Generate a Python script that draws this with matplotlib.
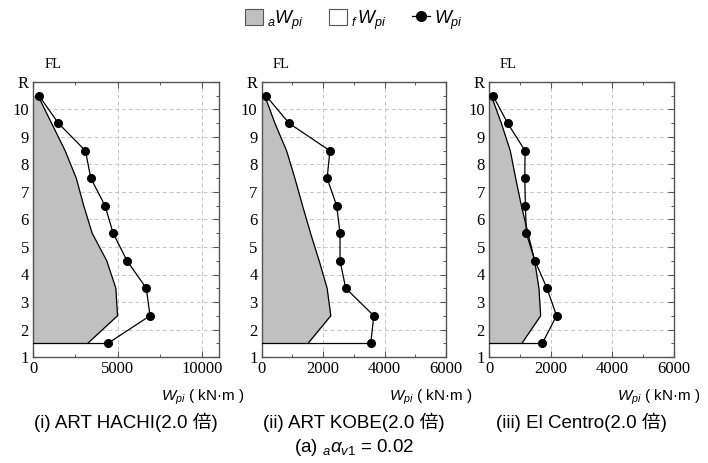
import matplotlib
matplotlib.use("Agg")
import matplotlib.pyplot as plt
from matplotlib.patches import Patch
from matplotlib.lines import Line2D
from matplotlib.ticker import MultipleLocator

plt.rcParams['font.family'] = ['Liberation Serif']
plt.rcParams['mathtext.fontset'] = 'custom'
plt.rcParams['mathtext.rm'] = 'Liberation Sans'
plt.rcParams['mathtext.it'] = 'Liberation Sans:italic'
plt.rcParams['mathtext.bf'] = 'Liberation Sans:bold'

# ---- data ----
levels = [10.5, 9.5, 8.5, 7.5, 6.5, 5.5, 4.5, 3.5, 2.5, 1.5]
y_ticks = [1, 2, 3, 4, 5, 6, 7, 8, 9, 10, 11]
y_labels = ['1', '2', '3', '4', '5', '6', '7', '8', '9', '10', 'R']

titles = ['(i) ART HACHI(2.0 倍)', '(ii) ART KOBE(2.0 倍)', '(iii) El Centro(2.0 倍)']

W_hachi = [360, 1500, 3100, 3420, 4260, 4740, 5560, 6700, 6920, 4440]
aW_hachi = [300, 1100, 1900, 2560, 3000, 3500, 4360, 4900, 5000, 3240]

W_kobe = [140, 890, 2220, 2130, 2440, 2550, 2550, 2735, 3650, 3550]
aW_kobe = [100, 430, 810, 1080, 1330, 1590, 1870, 2130, 2250, 1510]

W_elc = [130, 605, 1170, 1160, 1180, 1210, 1490, 1880, 2190, 1730]
aW_elc = [75, 400, 690, 865, 1050, 1265, 1480, 1620, 1675, 1070]

x_max = [11000, 6000, 6000]
x_major = [5000, 2000, 2000]
x_minor = [2500, 1000, 1000]

W_all = [W_hachi, W_kobe, W_elc]
aW_all = [aW_hachi, aW_kobe, aW_elc]

# ---- figure ----
fig = plt.figure(figsize=(7.08, 4.63), dpi=100)
lefts = [33 / 708, 261.7 / 708, 489 / 708]
widths = [186 / 708, 184.3 / 708, 185 / 708]
bottom = 1 - 357 / 463
height = 275 / 463

gray = '#c0c0c0'
frame = '#555555'
sans = 'Liberation Sans'
sans_cjk = ['Liberation Sans', 'Noto Sans CJK JP']

for i in range(3):
    ax = fig.add_axes([lefts[i], bottom, widths[i], height])
    W = W_all[i]
    aW = aW_all[i]
    ax.fill_betweenx(levels, 0, aW, color=gray, lw=0, zorder=1)
    ax.plot(aW, levels, color='black', lw=0.9, zorder=3)
    ax.plot([0, W[-1]], [levels[-1], levels[-1]], color='black', lw=0.9, zorder=3)
    ax.plot(W, levels, color='black', lw=0.9, marker='o', ms=5.5, zorder=4)

    ax.set_xlim(0, x_max[i])
    ax.set_ylim(1, 11)
    ax.xaxis.set_major_locator(MultipleLocator(x_major[i]))
    ax.xaxis.set_minor_locator(MultipleLocator(x_minor[i]))
    ax.set_yticks(y_ticks)
    ax.set_yticklabels(y_labels)
    ax.yaxis.set_minor_locator(MultipleLocator(0.5))
    ax.grid(True, which='major', color='#c4c4c4', ls=(0, (4, 3)), lw=0.7, zorder=0)
    ax.tick_params(which='both', direction='in', top=True, right=True, colors=frame,
                   labelcolor='black', labelsize=12, pad=3)
    ax.tick_params(which='major', length=4, width=0.8)
    ax.tick_params(which='minor', length=2.5, width=0.7)
    for sp in ax.spines.values():
        sp.set_color(frame)
        sp.set_linewidth(1.0)
    ax.set_axisbelow(True)

    ax.text(0.915, -0.145, r'$W_{pi}$' + ' ( kN·m )', transform=ax.transAxes,
            fontsize=11, family=sans, ha='center', va='center')
    ax.text(0.06, 1.062, 'FL', transform=ax.transAxes, fontsize=10.5,
            ha='left', va='center')

    cx = lefts[i] + widths[i] / 2
    fig.text(cx, 1 - 422 / 463, titles[i], ha='center', va='center', fontsize=13.5,
             family=sans_cjk)

fig.text(0.5, 1 - 447 / 463, r'(a) ${}_{a}\alpha_{v1}$ = 0.02', ha='center', va='center',
         fontsize=13.5, family=sans)

handles = [Patch(facecolor=gray, edgecolor='#555555', lw=0.8),
           Patch(facecolor='white', edgecolor='#555555', lw=0.8),
           Line2D([0], [0], color='black', lw=0.9, marker='o', ms=7)]
labels = [r'${}_{a}W_{pi}$', r'${}_{f}\,W_{pi}$', r'$W_{pi}$']
fig.legend(handles, labels, loc='center', bbox_to_anchor=(0.5, 1 - 20 / 463), ncol=3,
           frameon=False, fontsize=13, handlelength=1.0, handleheight=1.0,
           handletextpad=0.2, columnspacing=1.4)

fig.savefig('out.png', dpi=100)
